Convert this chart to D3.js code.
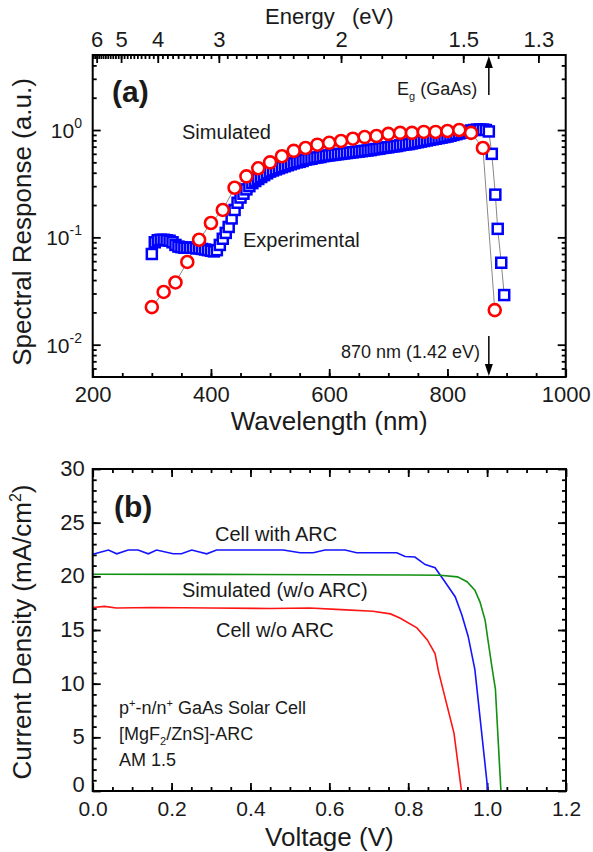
<!DOCTYPE html>
<html>
<head>
<meta charset="utf-8">
<script src="https://cdn.jsdelivr.net/npm/d3@7"></script>
<style>
    body { margin: 0; background: #fff; }
    svg text { font-family: "Liberation Sans", Arial, sans-serif; fill: #1a1a1a; }
    .tick line { stroke: #000; stroke-width: 1.8; }
</style>
</head>
<body>
<script>
//wrap everything in a self-executing anonymous function
(function () {
    //panel (a) - simulated spectral response (circles)
    var simWl = [300, 320, 340, 360, 380, 400, 420, 440, 460, 480, 500, 520, 540, 560, 580,
        600, 620, 640, 660, 680, 700, 720, 740, 760, 780, 800, 820, 840, 860, 880];
    var simSR = [0.0224, 0.031, 0.038, 0.059, 0.095, 0.136, 0.18, 0.29, 0.37, 0.44, 0.50, 0.57, 0.64, 0.68, 0.73,
        0.76, 0.79, 0.83, 0.86, 0.88, 0.92, 0.94, 0.94, 0.96, 0.96, 0.98, 1.0, 0.94, 0.68, 0.021];

    //panel (a) - experimental spectral response (squares)
    var expWl = [300, 305, 310, 315, 320, 325, 330, 335, 340, 345, 350, 355, 360, 365, 370, 375, 380, 385, 390, 395,
        400, 405, 410, 415, 420, 425, 430, 435, 440, 445, 450, 455, 460, 465, 470, 475, 480, 485, 490, 495,
        500, 505, 510, 515, 520, 525, 530, 535, 540, 545, 550, 555, 560, 565, 570, 575, 580, 585, 590, 595,
        600, 605, 610, 615, 620, 625, 630, 635, 640, 645, 650, 655, 660, 665, 670, 675, 680, 685, 690, 695,
        700, 705, 710, 715, 720, 725, 730, 735, 740, 745, 750, 755, 760, 765, 770, 775, 780, 785, 790, 795,
        800, 805, 810, 815, 820, 825, 830, 835, 840, 845, 850, 855, 860, 865, 870,
        875, 881, 885, 891, 896];
    var expSR = [0.07, 0.09, 0.094, 0.095, 0.095, 0.094, 0.093, 0.09, 0.085, 0.082, 0.081, 0.08, 0.08, 0.08, 0.08, 0.079, 0.079, 0.078, 0.077, 0.076,
        0.075, 0.074, 0.076, 0.085, 0.097, 0.11, 0.125, 0.15, 0.18, 0.21, 0.235, 0.255, 0.28, 0.3, 0.32, 0.335, 0.35, 0.365, 0.38, 0.395,
        0.41, 0.42, 0.43, 0.44, 0.45, 0.46, 0.47, 0.48, 0.49, 0.5, 0.505, 0.515, 0.53, 0.535, 0.54, 0.55, 0.555, 0.56, 0.57, 0.575,
        0.58, 0.585, 0.59, 0.595, 0.6, 0.605, 0.61, 0.615, 0.62, 0.625, 0.63, 0.635, 0.64, 0.645, 0.65, 0.66, 0.665, 0.67, 0.68, 0.685,
        0.69, 0.7, 0.705, 0.71, 0.72, 0.73, 0.735, 0.74, 0.75, 0.76, 0.77, 0.78, 0.79, 0.8, 0.81, 0.82, 0.83, 0.84, 0.85, 0.86,
        0.87, 0.885, 0.9, 0.915, 0.93, 0.945, 0.96, 0.975, 0.99, 1.0, 1.01, 1.01, 1.01, 1.0, 0.97,
        0.6, 0.25, 0.12, 0.058, 0.029];

    //panel (a) ticks
    var wlTicks = [200, 400, 600, 800, 1000];
    var eTicks = [6, 5, 4, 3, 2, 1.5, 1.3];
    var eLabels = ["6", "5", "4", "3", "2", "1.5", "1.3"];
    var srTicks = [0.01, 0.1, 1];
    var srExp = ["-2", "-1", "0"];

    //panel (b) - J-V curves
    var arcV = [0, 0.04, 0.061, 0.09, 0.115, 0.141, 0.162, 0.204, 0.225, 0.251, 0.289, 0.314, 0.40, 0.483, 0.526,
        0.559, 0.589, 0.64, 0.669, 0.771, 0.792, 0.817, 0.843, 0.868, 0.889, 0.919, 0.936, 0.952, 0.969, 1.002];
    var arcJ = [22.05, 22.45, 22.1, 22.45, 22.45, 22.1, 22.45, 22.1, 22.1, 22.45, 22.1, 22.45, 22.45, 22.45, 22.2,
        22.2, 22.45, 22.45, 22.2, 22.2, 21.85, 21.8, 21.1, 20.8, 19.7, 18.1, 16.4, 14.4, 11.3, 0];
    var simV = [0, 0.3, 0.6, 0.8, 0.881, 0.925, 0.949, 0.969, 0.982, 0.995, 1.002, 1.012, 1.021, 1.035];
    var simJ = [20.2, 20.18, 20.15, 20.12, 20.1, 19.95, 19.5, 18.7, 17.6, 15.9, 14.1, 11.6, 9.5, 0];
    var noArcV = [0, 0.03, 0.06, 0.15, 0.3, 0.45, 0.55, 0.63, 0.71, 0.755, 0.78, 0.822, 0.848, 0.868, 0.877, 0.916, 0.935];
    var noArcJ = [17.1, 17.2, 17.05, 17.1, 17.05, 17.0, 17.05, 16.9, 16.75, 16.5, 16.1, 15.2, 14.1, 12.8, 11.1, 5.4, 0];

    //panel (b) ticks
    var vTicks = [0, 0.2, 0.4, 0.6, 0.8, 1.0, 1.2];
    var jTicks = [0, 5, 10, 15, 20, 25, 30];

    var width = 593,
        height = 852;

    var svg = d3.select("body")
        .append("svg")
        .attr("width", width)
        .attr("height", height);

    setPanelA();
    setPanelB();

    //draw an axis and drop its domain line
    function addAxis(axis, tx, ty) {
        var g = svg.append("g")
            .attr("transform", "translate(" + tx + "," + ty + ")")
            .call(axis);
        g.select(".domain").remove();
        g.selectAll("text").style("font-size", "22px").attr("fill", "#1a1a1a");
        return g;
    }

    function frame(x0, y0, x1, y1) {
        svg.append("rect")
            .attr("x", x0).attr("y", y0)
            .attr("width", x1 - x0).attr("height", y1 - y0)
            .attr("fill", "none")
            .attr("stroke", "#000")
            .attr("stroke-width", 2);
    }

    function arrow(x, yTail, yHead) {
        var dir = yHead < yTail ? 1 : -1;
        svg.append("line")
            .attr("x1", x).attr("x2", x)
            .attr("y1", yTail).attr("y2", yHead + dir * 10)
            .attr("stroke", "#000").attr("stroke-width", 1.5);
        svg.append("path")
            .attr("d", "M" + x + "," + yHead + "L" + (x - 4) + "," + (yHead + dir * 12) + "L" + (x + 4) + "," + (yHead + dir * 12) + "Z")
            .attr("fill", "#000");
    }

    function setPanelA() {
        var x0 = 92.7, x1 = 565.7, y0 = 55, y1 = 377;
        var x = d3.scaleLinear().domain([200, 1000]).range([x0, x1]);
        var y = d3.scaleLog().domain([0.005, 5]).range([y1, y0]);

        //minor tick positions
        var wlMinor = d3.range(250, 1000, 50);
        var eMinor = d3.range(13, 63).map(function (k) { return 1240 / (k / 10); })
            .filter(function (d) { return d >= 200 && d <= 1000; });
        var srMinor = [];
        [0.001, 0.01, 0.1, 1].forEach(function (dec) {
            for (var m = 2; m <= 9; m++) {
                var v = dec * m;
                if (v > 0.005 && v < 5) srMinor.push(v);
            }
        });

        addAxis(d3.axisBottom(x).tickValues(wlMinor).tickSize(-4).tickFormat(""), 0, y1);
        addAxis(d3.axisBottom(x).tickValues(wlTicks).tickSize(-8).tickPadding(9).tickFormat(d3.format("d")), 0, y1);
        addAxis(d3.axisTop(x).tickValues(eMinor).tickSize(-4).tickFormat(""), 0, y0);
        addAxis(d3.axisTop(x).tickValues(eTicks.map(function (e) { return 1240 / e; }))
            .tickSize(-8).tickPadding(8)
            .tickFormat(function (d, i) { return eLabels[i]; }), 0, y0);
        addAxis(d3.axisLeft(y).tickValues(srMinor).tickSize(-4).tickFormat(""), x0, 0);
        addAxis(d3.axisLeft(y).tickValues(srTicks).tickSize(-8).tickFormat(""), x0, 0);
        addAxis(d3.axisRight(y).tickValues(srMinor).tickSize(-4).tickFormat(""), x1, 0);
        addAxis(d3.axisRight(y).tickValues(srTicks).tickSize(-8).tickFormat(""), x1, 0);

        //log tick labels 10^n
        srTicks.forEach(function (v, i) {
            var t = svg.append("text")
                .attr("x", 82).attr("y", y(v) + 8)
                .attr("text-anchor", "end")
                .style("font-size", "21px");
            t.append("tspan").text("10");
            t.append("tspan").attr("dy", -10).style("font-size", "14px").text(srExp[i]);
        });

        //connecting lines
        var line = d3.line()
            .x(function (d) { return x(d[0]); })
            .y(function (d) { return y(d[1]); });
        var expPts = d3.zip(expWl, expSR),
            simPts = d3.zip(simWl, simSR);
        svg.append("path").datum(expPts).attr("d", line)
            .attr("fill", "none").attr("stroke", "#888").attr("stroke-width", 1);
        svg.append("path").datum(simPts).attr("d", line)
            .attr("fill", "none").attr("stroke", "#888").attr("stroke-width", 1);

        //experimental squares
        svg.selectAll(".exp")
            .data(expPts)
            .enter()
            .append("rect")
            .attr("class", "exp")
            .attr("x", function (d) { return x(d[0]) - 5; })
            .attr("y", function (d) { return y(d[1]) - 5; })
            .attr("width", 10).attr("height", 10)
            .attr("fill", "#fff")
            .attr("stroke", "#0000ff")
            .attr("stroke-width", 2.5);

        //simulated circles
        svg.selectAll(".sim")
            .data(simPts)
            .enter()
            .append("circle")
            .attr("class", "sim")
            .attr("cx", function (d) { return x(d[0]); })
            .attr("cy", function (d) { return y(d[1]); })
            .attr("r", 6)
            .attr("fill", "#fff")
            .attr("stroke", "#ff0000")
            .attr("stroke-width", 2.6);

        frame(x0, y0, x1, y1);

        //labels
        svg.append("text").attr("x", 112).attr("y", 102)
            .style("font-size", "30px").style("font-weight", "bold").text("(a)");
        svg.append("text").attr("x", 182).attr("y", 139)
            .style("font-size", "20px").text("Simulated");
        svg.append("text").attr("x", 243).attr("y", 247)
            .style("font-size", "20px").text("Experimental");

        var eg = svg.append("text").attr("x", 397).attr("y", 95).style("font-size", "18px");
        eg.append("tspan").text("E");
        eg.append("tspan").attr("dy", 5).style("font-size", "11px").text("g");
        eg.append("tspan").attr("dy", -5).text(" (GaAs)");
        arrow(x(870), 95, y0 + 1);

        svg.append("text").attr("x", 480).attr("y", 358)
            .attr("text-anchor", "end")
            .style("font-size", "18px").text("870 nm (1.42 eV)");
        arrow(x(870), 336, y1 - 1);

        //axis titles
        svg.append("text").attr("x", (x0 + x1) / 2).attr("y", 430)
            .attr("text-anchor", "middle").style("font-size", "26px").text("Wavelength (nm)");
        svg.append("text").attr("x", 265).attr("y", 24)
            .style("font-size", "22px").text("Energy");
        svg.append("text").attr("x", 352).attr("y", 24)
            .style("font-size", "22px").text("(eV)");
        svg.append("text")
            .attr("transform", "translate(31," + 222 + ") rotate(-90)")
            .attr("text-anchor", "middle")
            .style("font-size", "26px")
            .text("Spectral Response (a.u.)");
    }

    function setPanelB() {
        var x0 = 92.7, x1 = 566, y0 = 469, y1 = 791;
        var x = d3.scaleLinear().domain([0, 1.2]).range([x0, x1]);
        var y = d3.scaleLinear().domain([0, 30]).range([y1, y0]);

        var vMinor = d3.range(0.05, 1.2, 0.05);
        var jMinor = d3.range(1, 30, 1);

        addAxis(d3.axisBottom(x).tickValues(vMinor).tickSize(-4).tickFormat(""), 0, y1);
        var xAx = addAxis(d3.axisBottom(x).tickValues(vTicks).tickSize(-8).tickPadding(10).tickFormat(d3.format(".1f")), 0, y1);
        xAx.selectAll("text").style("font-size", "21px");
        addAxis(d3.axisTop(x).tickValues(vMinor).tickSize(-4).tickFormat(""), 0, y0);
        addAxis(d3.axisTop(x).tickValues(vTicks).tickSize(-8).tickFormat(""), 0, y0);
        addAxis(d3.axisLeft(y).tickValues(jMinor).tickSize(-4).tickFormat(""), x0, 0);
        var yAx = addAxis(d3.axisLeft(y).tickValues(jTicks).tickSize(-8).tickPadding(8).tickFormat(d3.format("d")), x0, 0);
        //keep the "0" label clear of the "0.0" label below it
        yAx.selectAll("text").attr("dy", function (d) { return d === 0 ? "0.04em" : "0.3em"; });
        addAxis(d3.axisRight(y).tickValues(jMinor).tickSize(-4).tickFormat(""), x1, 0);
        addAxis(d3.axisRight(y).tickValues(jTicks).tickSize(-8).tickFormat(""), x1, 0);

        var line = d3.line()
            .x(function (d) { return x(d[0]); })
            .y(function (d) { return y(d[1]); });

        var curves = [
            { v: arcV, j: arcJ, color: "#1414ff" },
            { v: simV, j: simJ, color: "#119011" },
            { v: noArcV, j: noArcJ, color: "#ff1414" }
        ];
        curves.forEach(function (c) {
            svg.append("path")
                .datum(d3.zip(c.v, c.j))
                .attr("d", line)
                .attr("fill", "none")
                .attr("stroke", c.color)
                .attr("stroke-width", 1.6);
        });

        frame(x0, y0, x1, y1);

        svg.append("text").attr("x", 114).attr("y", 517)
            .style("font-size", "30px").style("font-weight", "bold").text("(b)");
        svg.append("text").attr("x", 215).attr("y", 541)
            .style("font-size", "20px").text("Cell with ARC");
        svg.append("text").attr("x", 182).attr("y", 597)
            .style("font-size", "20px").text("Simulated (w/o ARC)");
        svg.append("text").attr("x", 216).attr("y", 637)
            .style("font-size", "20px").text("Cell w/o ARC");

        //cell description
        var l1 = svg.append("text").attr("x", 119).attr("y", 714).style("font-size", "18px");
        l1.append("tspan").text("p");
        l1.append("tspan").attr("dy", -7).style("font-size", "11px").text("+");
        l1.append("tspan").attr("dy", 7).text("-n/n");
        l1.append("tspan").attr("dy", -7).style("font-size", "11px").text("+");
        l1.append("tspan").attr("dy", 7).text(" GaAs Solar Cell");
        var l2 = svg.append("text").attr("x", 119).attr("y", 740).style("font-size", "18px");
        l2.append("tspan").text("[MgF");
        l2.append("tspan").attr("dy", 5).style("font-size", "11px").text("2");
        l2.append("tspan").attr("dy", -5).text("/ZnS]-ARC");
        svg.append("text").attr("x", 119).attr("y", 766).style("font-size", "18px").text("AM 1.5");

        //axis titles
        svg.append("text").attr("x", (x0 + x1) / 2).attr("y", 846)
            .attr("text-anchor", "middle").style("font-size", "26px").text("Voltage (V)");
        var yt = svg.append("text")
            .attr("transform", "translate(31," + 632 + ") rotate(-90)")
            .attr("text-anchor", "middle")
            .style("font-size", "26px");
        yt.append("tspan").text("Current Density (mA/cm");
        yt.append("tspan").attr("dy", -10).style("font-size", "16px").text("2");
        yt.append("tspan").attr("dy", 10).text(")");
    }
})();
</script>
</body>
</html>
